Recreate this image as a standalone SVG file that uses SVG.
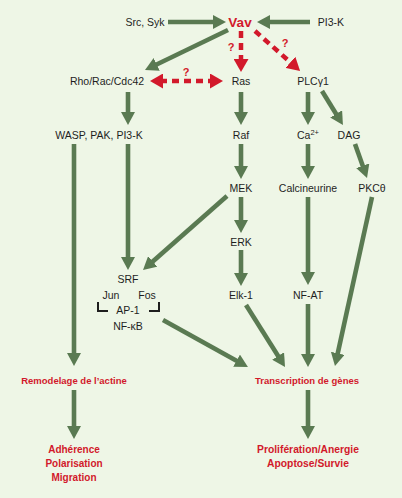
<svg xmlns="http://www.w3.org/2000/svg" width="402" height="498" viewBox="0 0 402 498">
<defs>
<style>
.t{font-family:"Liberation Sans",Arial,sans-serif;font-size:10.5px;fill:#1e1e1e;text-anchor:middle}
.r{font-family:"Liberation Sans",Arial,sans-serif;font-size:9.5px;font-weight:bold;fill:#d2192b;text-anchor:middle}
.q{font-family:"Liberation Sans",Arial,sans-serif;font-size:11px;font-weight:bold;fill:#d2192b;text-anchor:middle}
.g{stroke:#5a7a52;stroke-width:4.6;fill:none}
.d{stroke:#d2192b;stroke-width:4.5;fill:none;stroke-dasharray:7,5}
.br{stroke:#1e1e1e;stroke-width:2;fill:none}
</style>
<marker id="ag" markerUnits="userSpaceOnUse" markerWidth="13" markerHeight="14" refX="3" refY="7" orient="auto" viewBox="0 0 13 14">
<path d="M0,0 L13,7 L0,14 z" fill="#5a7a52"/>
</marker>
<marker id="ar" markerUnits="userSpaceOnUse" markerWidth="13" markerHeight="15" refX="3" refY="7.5" orient="auto" viewBox="0 0 13 15">
<path d="M0,0 L13,7.5 L0,15 z" fill="#d2192b"/>
</marker>
<marker id="ars" markerUnits="userSpaceOnUse" markerWidth="13" markerHeight="15" refX="10" refY="7.5" orient="auto" viewBox="0 0 13 15">
<path d="M13,0 L0,7.5 L13,15 z" fill="#d2192b"/>
</marker>
</defs>
<rect width="402" height="498" fill="#eef6e6"/>
<g id="connectors">
<line class="g" x1="168" y1="22" x2="216" y2="22" marker-end="url(#ag)"/>
<line class="g" x1="310" y1="22" x2="267" y2="22" marker-end="url(#ag)"/>
<line class="g" x1="228" y1="30" x2="154" y2="65.7" marker-end="url(#ag)"/>
<line class="g" x1="128" y1="92" x2="128" y2="115" marker-end="url(#ag)"/>
<line class="g" x1="241" y1="92" x2="241" y2="115" marker-end="url(#ag)"/>
<line class="g" x1="308" y1="92" x2="308" y2="115" marker-end="url(#ag)"/>
<line class="g" x1="322" y1="91" x2="337.7" y2="116.5" marker-end="url(#ag)"/>
<line class="g" x1="74" y1="144" x2="74" y2="356" marker-end="url(#ag)"/>
<line class="g" x1="128" y1="144" x2="128" y2="260" marker-end="url(#ag)"/>
<line class="g" x1="241" y1="144" x2="241" y2="169" marker-end="url(#ag)"/>
<line class="g" x1="308" y1="144" x2="308" y2="169" marker-end="url(#ag)"/>
<line class="g" x1="355" y1="144" x2="363.7" y2="168.6" marker-end="url(#ag)"/>
<line class="g" x1="227" y1="196" x2="150.5" y2="263.4" marker-end="url(#ag)"/>
<line class="g" x1="241" y1="197" x2="241" y2="223" marker-end="url(#ag)"/>
<line class="g" x1="308" y1="197" x2="308" y2="275" marker-end="url(#ag)"/>
<line class="g" x1="372" y1="197" x2="337.1" y2="356.2" marker-end="url(#ag)"/>
<line class="g" x1="241" y1="250" x2="241" y2="276" marker-end="url(#ag)"/>
<line class="g" x1="163" y1="320" x2="239.2" y2="362.2" marker-end="url(#ag)"/>
<line class="g" x1="246" y1="305" x2="279.7" y2="358.5" marker-end="url(#ag)"/>
<line class="g" x1="308" y1="304" x2="308" y2="357" marker-end="url(#ag)"/>
<line class="g" x1="74" y1="390" x2="74" y2="429" marker-end="url(#ag)"/>
<line class="g" x1="308" y1="390" x2="308" y2="429" marker-end="url(#ag)"/>
<line class="d" x1="241" y1="31" x2="241" y2="62" marker-end="url(#ar)"/>
<line class="d" x1="255" y1="31" x2="292.6" y2="64.3" marker-end="url(#ar)"/>
<line class="d" x1="160" y1="81" x2="213" y2="81" marker-start="url(#ars)" marker-end="url(#ar)"/>
<text class="q" x="231" y="51">?</text>
<text class="q" x="285" y="47">?</text>
<text class="q" x="186" y="76">?</text>
</g>
<g id="src"><text class="t" x="145" y="26">Src, Syk</text></g>
<g id="vav"><text class="r" x="240" y="27" style="font-size:13.5px">Vav</text></g>
<g id="pi3k-top"><text class="t" x="331" y="26">PI3-K</text></g>
<g id="rho"><text class="t" x="107" y="85">Rho/Rac/Cdc42</text></g>
<g id="ras"><text class="t" x="241" y="85">Ras</text></g>
<g id="plc"><text class="t" x="313" y="85">PLCγ1</text></g>
<g id="wasp"><text class="t" x="99" y="139">WASP, PAK, PI3-K</text></g>
<g id="raf"><text class="t" x="241" y="139">Raf</text></g>
<g id="ca"><text class="t" x="308" y="139">Ca<tspan dy="-4" font-size="7.5">2+</tspan></text></g>
<g id="dag"><text class="t" x="349" y="139">DAG</text></g>
<g id="mek"><text class="t" x="241" y="192">MEK</text></g>
<g id="calcineurine"><text class="t" x="308" y="192">Calcineurine</text></g>
<g id="pkc"><text class="t" x="372" y="192">PKCθ</text></g>
<g id="erk"><text class="t" x="241" y="246">ERK</text></g>
<g id="tf">
<text class="t" x="128" y="283">SRF</text>
<text class="t" x="111" y="299">Jun</text>
<text class="t" x="147" y="299">Fos</text>
<path class="br" d="M98,302 V311 H108 M159,302 V311 H149"/>
<text class="t" x="128" y="314">AP-1</text>
<text class="t" x="128" y="330">NF-κB</text>
</g>
<g id="elk"><text class="t" x="241" y="299">Elk-1</text></g>
<g id="nfat"><text class="t" x="308" y="299">NF-AT</text></g>
<g id="remodelage"><text class="r" x="74" y="384">Remodelage de l’actine</text></g>
<g id="transcription"><text class="r" x="307" y="384">Transcription de gènes</text></g>
<g id="adhesion">
<text class="r" x="74" y="453" style="font-size:10px">Adhérence</text>
<text class="r" x="74" y="467" style="font-size:10px">Polarisation</text>
<text class="r" x="74" y="481" style="font-size:10px">Migration</text>
</g>
<g id="prolif">
<text class="r" x="308" y="453" style="font-size:10.3px">Prolifération/Anergie</text>
<text class="r" x="308" y="467" style="font-size:10.3px">Apoptose/Survie</text>
</g>
</svg>
